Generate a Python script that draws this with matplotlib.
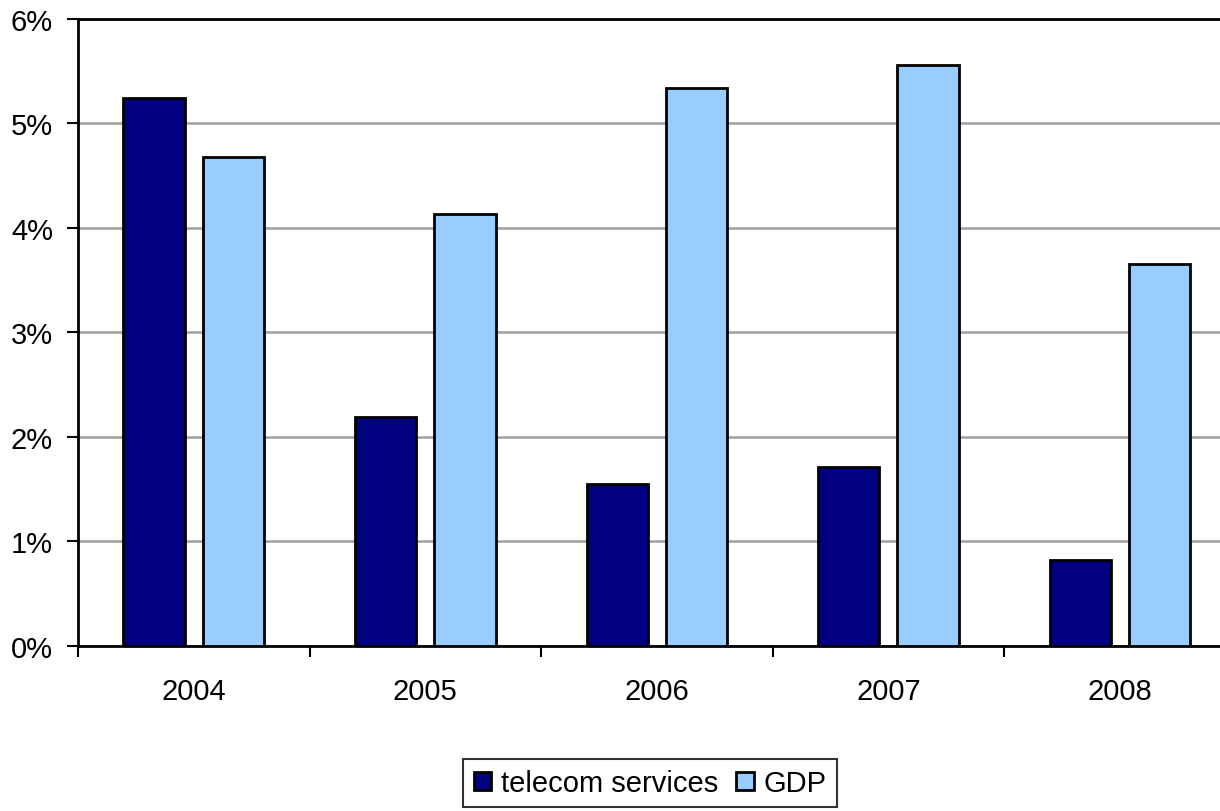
import matplotlib
matplotlib.use('Agg')
import matplotlib.pyplot as plt
import numpy as np

plt.rcParams['font.family'] = ['Liberation Sans', 'DejaVu Sans']

years = ['2004', '2005', '2006', '2007', '2008']
telecom = [5.24, 2.19, 1.55, 1.71, 0.82]
gdp = [4.68, 4.13, 5.34, 5.56, 3.66]

fig = plt.figure(figsize=(12.2, 8.12), dpi=100)
ax = fig.add_axes([0.0639, 0.2032, 0.949, 0.7722])

x = np.arange(len(years))
w = 0.265
off = 0.171
ax.bar(x - off, telecom, w, color='#000080', edgecolor='black', lw=2,
       label='telecom services', zorder=3)
ax.bar(x + off, gdp, w, color='#99ccff', edgecolor='black', lw=2,
       label='GDP', zorder=3)

ax.set_xlim(-0.5, len(years) - 0.5)
ax.set_ylim(0, 6)
ax.set_yticks(range(7))
ax.set_yticklabels([f'{v}%' for v in range(7)])
ax.yaxis.grid(True, color='#a0a0a0', lw=1.8, zorder=0)

# labels centred under each group, tick marks on the group boundaries
ax.set_xticks(x)
ax.set_xticklabels(years)
ax.set_xticks(np.arange(-0.5, len(years)), minor=True)
ax.tick_params(axis='x', which='major', length=0, pad=22, labelsize=21)
ax.tick_params(axis='x', which='minor', length=8, width=1.5, direction='out')
ax.tick_params(axis='y', length=8, width=1.5, direction='out', pad=10, labelsize=21)

for s in ax.spines.values():
    s.set_linewidth(2)
    s.set_color('black')

leg = fig.legend(loc='upper center', bbox_to_anchor=(0.533, 0.064), ncol=2,
                 fontsize=21, frameon=True, fancybox=False, edgecolor='black',
                 handlelength=0.6, handleheight=0.6, handletextpad=0.35,
                 columnspacing=0.6, borderpad=0.35, borderaxespad=0)
leg.get_frame().set_linewidth(1.5)

fig.savefig('out.png', dpi=100)
